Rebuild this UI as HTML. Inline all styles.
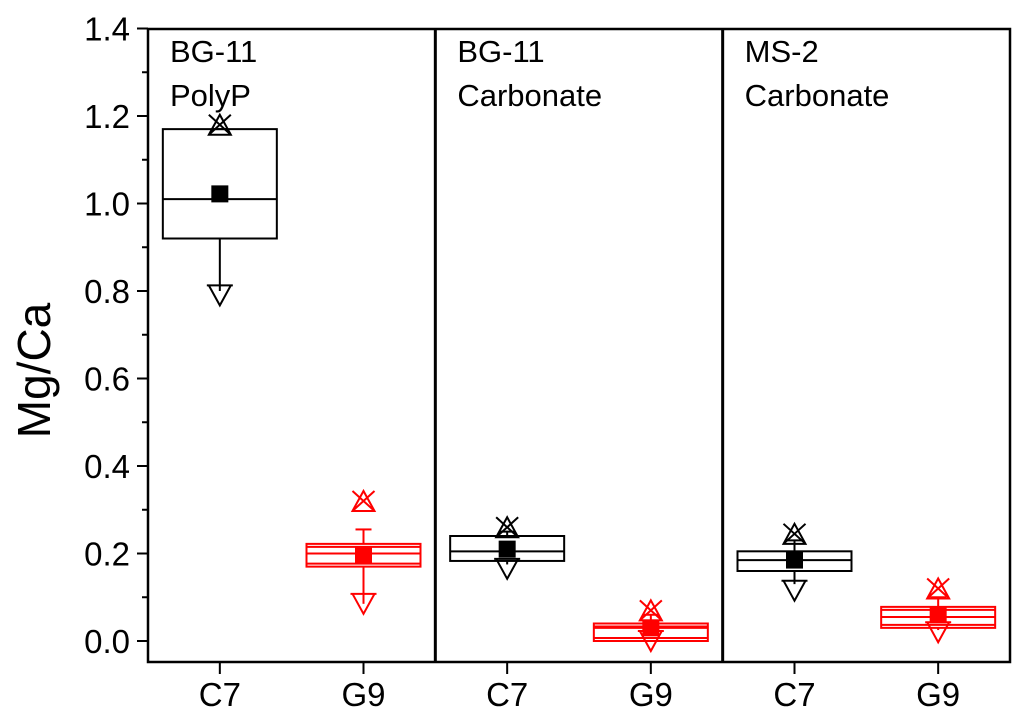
<!DOCTYPE html>
<html><head><meta charset="utf-8"><style>
html,body{margin:0;padding:0;background:#fff;}
svg{display:block;font-family:"Liberation Sans",Arial,sans-serif;}
</style></head><body>
<svg id="chart" width="1024" height="727" viewBox="0 0 1024 727"></svg>
<script>
const categories = ["C7","G9","C7","G9","C7","G9"];
const panelLabels = [["BG-11","PolyP"],["BG-11","Carbonate"],["MS-2","Carbonate"]];
const boxLow = [0.92, 0.17, 0.183, 0.0, 0.16, 0.03];
const boxHigh = [1.17, 0.222, 0.24, 0.04, 0.205, 0.078];
const medians = [1.01, 0.20, 0.205, 0.03, 0.185, 0.055];
const means = [1.022, 0.197, 0.21, 0.03, 0.185, 0.06];
const whiskerLow = [0.80, 0.085, 0.175, 0.0, 0.13, 0.025];
const whiskerHigh = [1.17, 0.255, 0.25, 0.06, 0.23, 0.10];
const maxVals = [1.18, 0.32, 0.26, 0.07, 0.245, 0.12];
const minVals = [0.79, 0.085, 0.165, 0.0, 0.115, 0.02];
const colors = ["#000","#f00","#000","#f00","#000","#f00"];
const yTicks = [0,0.2,0.4,0.6,0.8,1.0,1.2,1.4];
const yTickLabels = ["0.0","0.2","0.4","0.6","0.8","1.0","1.2","1.4"];

const L=148,R=1010,T=29,B=662;
const y0=641, pxPer=437.5;
const y=v=>y0-v*pxPer;
const catW=(R-L)/6;
const x=i=>L+(i+0.5)*catW;
const svg=document.getElementById('chart');
const NS='http://www.w3.org/2000/svg';
function mk(tag,attrs,parent){const e=document.createElementNS(NS,tag);for(const k in attrs)e.setAttribute(k,attrs[k]);(parent||svg).appendChild(e);return e;}

let fr=mk('rect',{x:L,y:T,width:R-L,height:B-T,fill:'none',stroke:'#000','stroke-width':2.5});


for(let p=1;p<3;p++){
  let d=mk('line',{x1:L+p*2*catW,x2:L+p*2*catW,y1:T,y2:B,stroke:'#000','stroke-width':3});
  
  
}
yTicks.forEach((v,i)=>{
  let t=mk('line',{x1:L-11,x2:L,y1:y(v),y2:y(v),stroke:'#000','stroke-width':2});
  
  
  let tx=mk('text',{x:L-18,y:y(v)+12,'text-anchor':'end','font-size':33,fill:'#000'});
  tx.textContent=yTickLabels[i];
  
  
  if(i<yTicks.length-1){
    let m=mk('line',{x1:L-6,x2:L,y1:y(v+0.1),y2:y(v+0.1),stroke:'#000','stroke-width':2});
    
    
  }
});
const tcy=(T+B)/2+25;
let yt=mk('text',{x:50,y:tcy,'text-anchor':'middle','font-size':46,transform:`rotate(-90 50 ${tcy})`});
yt.textContent='Mg/Ca';


categories.forEach((c,i)=>{
  let t=mk('line',{x1:x(i),x2:x(i),y1:B,y2:B+12,stroke:'#000','stroke-width':2});
  
  
  let tx=mk('text',{x:x(i),y:B+44,'text-anchor':'middle','font-size':33});
  tx.textContent=c;
  
  
});
panelLabels.forEach((lb,p)=>{
  lb.forEach((s,j)=>{
    let tx=mk('text',{x:L+p*2*catW+22,y:T+33+j*44,'font-size':31});
    tx.textContent=s;
    
    
  });
});
const bw=114;
categories.forEach((c,i)=>{
  const g=mk('g',{});
  
  
  const col=colors[i], cx=x(i);
  const st={stroke:col,'stroke-width':2,fill:'none'};
  mk('line',Object.assign({x1:cx,x2:cx,y1:y(boxHigh[i]),y2:y(whiskerHigh[i])},st),g);
  mk('line',Object.assign({x1:cx,x2:cx,y1:y(boxLow[i]),y2:y(whiskerLow[i])},st),g);
  mk('line',Object.assign({x1:cx-8,x2:cx+8,y1:y(whiskerHigh[i]),y2:y(whiskerHigh[i])},st),g);
  mk('rect',Object.assign({x:cx-bw/2,y:y(boxHigh[i]),width:bw,height:y(boxLow[i])-y(boxHigh[i])},st),g);
  if(col!=='#000'){
    mk('line',Object.assign({x1:cx-bw/2,x2:cx+bw/2,y1:y(boxHigh[i])+3,y2:y(boxHigh[i])+3},st),g);
    mk('line',Object.assign({x1:cx-bw/2,x2:cx+bw/2,y1:y(boxLow[i])-3,y2:y(boxLow[i])-3},st),g);
  }
  mk('line',Object.assign({x1:cx-bw/2,x2:cx+bw/2,y1:y(medians[i]),y2:y(medians[i])},st),g);
  const ym=y(maxVals[i]);
  mk('path',Object.assign({d:`M${cx-11},${ym+10}L${cx},${ym-10}L${cx+11},${ym+10}Z M${cx-11},${ym-10}L${cx+11},${ym+10} M${cx+11},${ym-10}L${cx-11},${ym+10}`},st),g);
  const yn=y(minVals[i]);
  mk('path',Object.assign({d:`M${cx-11},${yn-10}L${cx},${yn+10}L${cx+11},${yn-10}Z M${cx-13},${yn-10}L${cx+13},${yn-10}`},st),g);
  const s=17;
  mk('rect',{x:cx-s/2,y:y(means[i])-s/2,width:s,height:s,fill:col==='#000'?'#000':'#f00'},g);
});
</script>
</body></html>
